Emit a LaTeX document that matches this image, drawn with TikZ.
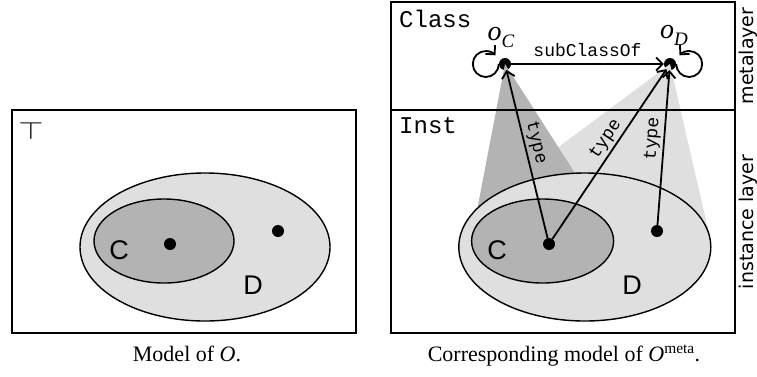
\documentclass[tikz,border=0pt]{standalone}
\usepackage{fontspec}
\setmainfont{Liberation Serif}
\setsansfont{Liberation Sans}
\setmonofont{Liberation Mono}
\newfontfamily\dejavu{DejaVu Sans}
\usetikzlibrary{arrows.meta}
\definecolor{lightg}{HTML}{DFDFDF}
\definecolor{darkg}{HTML}{B3B3B3}
\begin{document}
\begin{tikzpicture}[x=1pt,y=1pt,
  box/.style={draw, line width=1.3pt},
  ell/.style={draw, line width=1.4pt},
  dot/.style={circle, fill=black, inner sep=0pt, minimum size=12pt},
  arr/.style={line width=1.8pt, -{Straight Barb[length=6.5pt,width=13pt]}},
  setlabel/.style={font=\sffamily\fontsize{27}{27}\selectfont},
  layerlabel/.style={font=\ttfamily\fontsize{24}{24}\selectfont, anchor=base west, inner sep=0pt},
  rel/.style={font=\ttfamily\fontsize{18}{18}\selectfont},
  side/.style={font=\dejavu\fontsize{19}{19}\selectfont, rotate=90},
  captext/.style={font=\fontsize{22}{22}\selectfont, anchor=base},
  olabel/.style={font=\fontsize{28}{28}\selectfont}
]
\useasboundingbox (0,0) rectangle (757,-376);

% ---------- right: dots needed for cones ----------
\node[dot] (oC) at (505,-64) {};
\node[dot] (oD) at (670,-64) {};

% cones (behind ellipses)
\fill[lightg] (oD.center) -- (710.5,-240) -- (486.1,-201.0) -- cycle;
\fill[darkg] (oC.center) -- (608.9,-226.0) -- (472.1,-236.2) -- cycle;

% ---------- ellipses ----------
% left
\draw[ell, fill=lightg] (205,-247) ellipse [x radius=125, y radius=74];
\draw[ell, fill=darkg] (164,-241) ellipse [x radius=70, y radius=42];
% right
\draw[ell, fill=lightg] (584.8,-247) ellipse [x radius=126, y radius=74];
\draw[ell, fill=darkg] (542.6,-241) ellipse [x radius=71, y radius=42];

% ---------- boxes ----------
\draw[box] (12,-110) rectangle (356,-333);
\draw[box] (391,-2) rectangle (735,-333);
\draw[box] (391,-110) -- (735,-110);

% ---------- left content ----------
\node (topsym) at (31,-131) {\fontsize{24}{24}\selectfont\scalebox{1.3}[1]{$\top$}};
\node[dot] (c1) at (170,-244) {};
\node[dot] (d1) at (278,-231) {};
\node[setlabel] (lC1) at (119,-250) {C};
\node[setlabel] (lD1) at (253,-285) {D};

% ---------- right content ----------
\node[dot] (c2) at (549,-244) {};
\node[dot] (d2) at (657,-231) {};
\node[setlabel] (lC2) at (497,-250) {C};
\node[setlabel] (lD2) at (632,-285) {D};

\node[layerlabel] (cls) at (399,-27) {Class};
\node[layerlabel] (inst) at (399,-133) {Inst};

\node[olabel] (oCl) at (501,-37) {\textit{o}\raisebox{-7pt}{\fontsize{19}{19}\selectfont\textit{C}}};
\node[olabel] (oDl) at (674,-35) {\textit{o}\raisebox{-7pt}{\fontsize{19}{19}\selectfont\textit{D}}};

\draw[arr] (oC) -- node[above=3pt, rel] {subClassOf} (oD);
\draw[arr] (c2) -- node[sloped, above, pos=0.55, rel, inner sep=2.5pt] {type} (oC);
\draw[arr] (c2) -- node[sloped, above, pos=0.55, rel, inner sep=2.5pt] {type} (oD);
\draw[arr] (d2) -- node[sloped, above, pos=0.55, rel, inner sep=2.5pt] {type} (oD);

% self loops
\draw[arr] (oC.west) arc[start angle=0, end angle=-318, radius=13];
\draw[arr] (oD.east) arc[start angle=180, end angle=498, radius=13];

\node[side] (meta) at (748,-56) {metalayer};
\node[side] (instl) at (748,-222) {instance layer};

% ---------- captions ----------
\node[captext] (cap1) at (187,-361) {Model of \textit{O}.};
\node[captext] (cap2) at (564,-361) {Corresponding model of \textit{O}\textsuperscript{meta}.};
\end{tikzpicture}
\end{document}
